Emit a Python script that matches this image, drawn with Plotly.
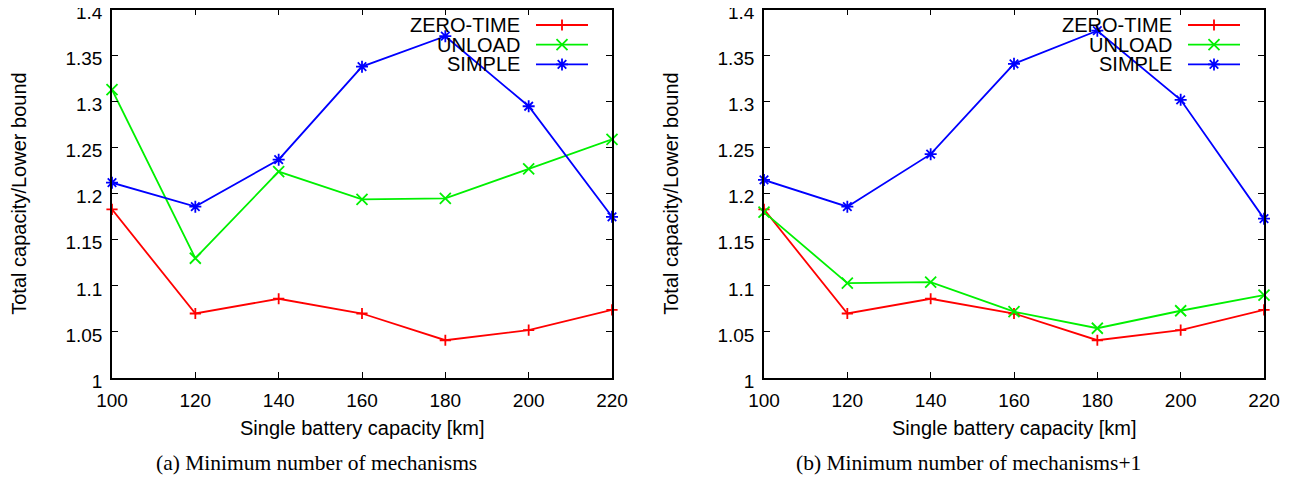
import plotly.graph_objects as go
from plotly.subplots import make_subplots

# Data
capacity = [100, 120, 140, 160, 180, 200, 220]

zero_time_a = [1.183, 1.070, 1.086, 1.070, 1.041, 1.052, 1.074]
unload_a = [1.313, 1.130, 1.224, 1.194, 1.195, 1.227, 1.259]
simple_a = [1.212, 1.186, 1.237, 1.338, 1.371, 1.295, 1.175]

zero_time_b = [1.183, 1.070, 1.086, 1.070, 1.041, 1.052, 1.074]
unload_b = [1.180, 1.103, 1.104, 1.072, 1.054, 1.073, 1.090]
simple_b = [1.215, 1.186, 1.243, 1.341, 1.377, 1.302, 1.173]

series_names = ['ZERO-TIME', 'UNLOAD', 'SIMPLE']
y_ticks = [1, 1.05, 1.1, 1.15, 1.2, 1.25, 1.3, 1.35, 1.4]
y_tick_text = ['1', '1.05', '1.1', '1.15', '1.2', '1.25', '1.3', '1.35', '1.4']
captions = ['(a) Minimum number of mechanisms', '(b) Minimum number of mechanisms+1']

W, H = 1301, 478
OFF = 8  # page body margin
colors = ['#ff0000', '#00f000', '#0000ff']
symbols = ['cross-thin-open', 'x-thin-open', 'asterisk-open']
sizes = [8, 11, 10]
# legend glyphs drawn as pixel paths
glyphs = ['M-5.5,0H5.5M0,-5.5V5.5',
          'M-5.5,-5.5L5.5,5.5M-5.5,5.5L5.5,-5.5',
          'M-6,0H6M0,-6V6M-4.3,-4.3L4.3,4.3M-4.3,4.3L4.3,-4.3']

SANS = 'Liberation Sans'
SERIF = 'Liberation Serif'

# plot boxes in page pixels (left, right), top/bottom shared
boxes = [(112, 612), (764, 1264)]
top_px, bot_px = 9.5, 378


def px(x):
    return (x - OFF) / W


def py(y):
    return 1 - (y - OFF) / H


fig = make_subplots(rows=1, cols=2)

panels = [(zero_time_a, unload_a, simple_a), (zero_time_b, unload_b, simple_b)]
for col, data in enumerate(panels, start=1):
    for i, vals in enumerate(data):
        fig.add_trace(go.Scatter(
            x=capacity, y=vals, mode='lines+markers', name=series_names[i],
            showlegend=False, cliponaxis=False,
            line=dict(color=colors[i], width=1.8),
            marker=dict(symbol=symbols[i], size=sizes[i],
                        line=dict(color=colors[i], width=1.8)),
        ), row=1, col=col)

axis_common = dict(showline=True, linecolor='black', linewidth=1.5, mirror='ticks',
                   ticks='inside', ticklen=6, tickwidth=1, tickcolor='black',
                   showgrid=False, zeroline=False, automargin=False,
                   ticklabeloverflow='allow', ticklabelstandoff=4,
                   tickfont=dict(family=SANS, size=19, color='black'))

shapes = []
annotations = []


def note(text, x, y, size, family=SANS, anchor='center', angle=0):
    annotations.append(dict(text=text, x=px(x), y=py(y), xref='paper', yref='paper',
                            xanchor=anchor, yanchor='middle', showarrow=False,
                            textangle=angle, font=dict(family=family, size=size, color='black')))


for k, (l, r) in enumerate(boxes):
    xa = 'xaxis' if k == 0 else 'xaxis2'
    ya = 'yaxis' if k == 0 else 'yaxis2'
    fig.layout[xa].update(domain=[px(l), px(r)], range=[100, 220],
                          tickvals=capacity, **axis_common)
    fig.layout[ya].update(domain=[py(bot_px), py(top_px)], range=[1, 1.40001],
                          tickvals=y_ticks, ticktext=y_tick_text, ticklabelshift=3,
                          **axis_common)

    # axis titles and caption
    note('Single battery capacity [km]', (l + r) / 2, 428, 20)
    note('Total capacity/Lower bound', l - 93, (top_px + bot_px) / 2, 20, angle=-90)
    note(captions[k], l + 204, 463, 21.5, family=SERIF)

    # gnuplot style key: text right aligned, sample to the right
    for i, name in enumerate(series_names):
        yk = 25 + 19.7 * i
        note(name, r - 90, yk, 20, anchor='right')
        shapes.append(dict(type='line', xref='paper', yref='paper',
                           x0=px(r - 76), x1=px(r - 24), y0=py(yk), y1=py(yk),
                           line=dict(color=colors[i], width=1.8)))
        shapes.append(dict(type='path', xref='paper', yref='paper',
                           xsizemode='pixel', ysizemode='pixel',
                           xanchor=px(r - 50), yanchor=py(yk), path=glyphs[i],
                           line=dict(color=colors[i], width=1.8)))

fig.update_layout(width=W, height=H, margin=dict(l=0, r=0, t=0, b=0, autoexpand=False),
                  paper_bgcolor='white', plot_bgcolor='white',
                  shapes=shapes, annotations=annotations, showlegend=False)

fig.write_html("out.html")
